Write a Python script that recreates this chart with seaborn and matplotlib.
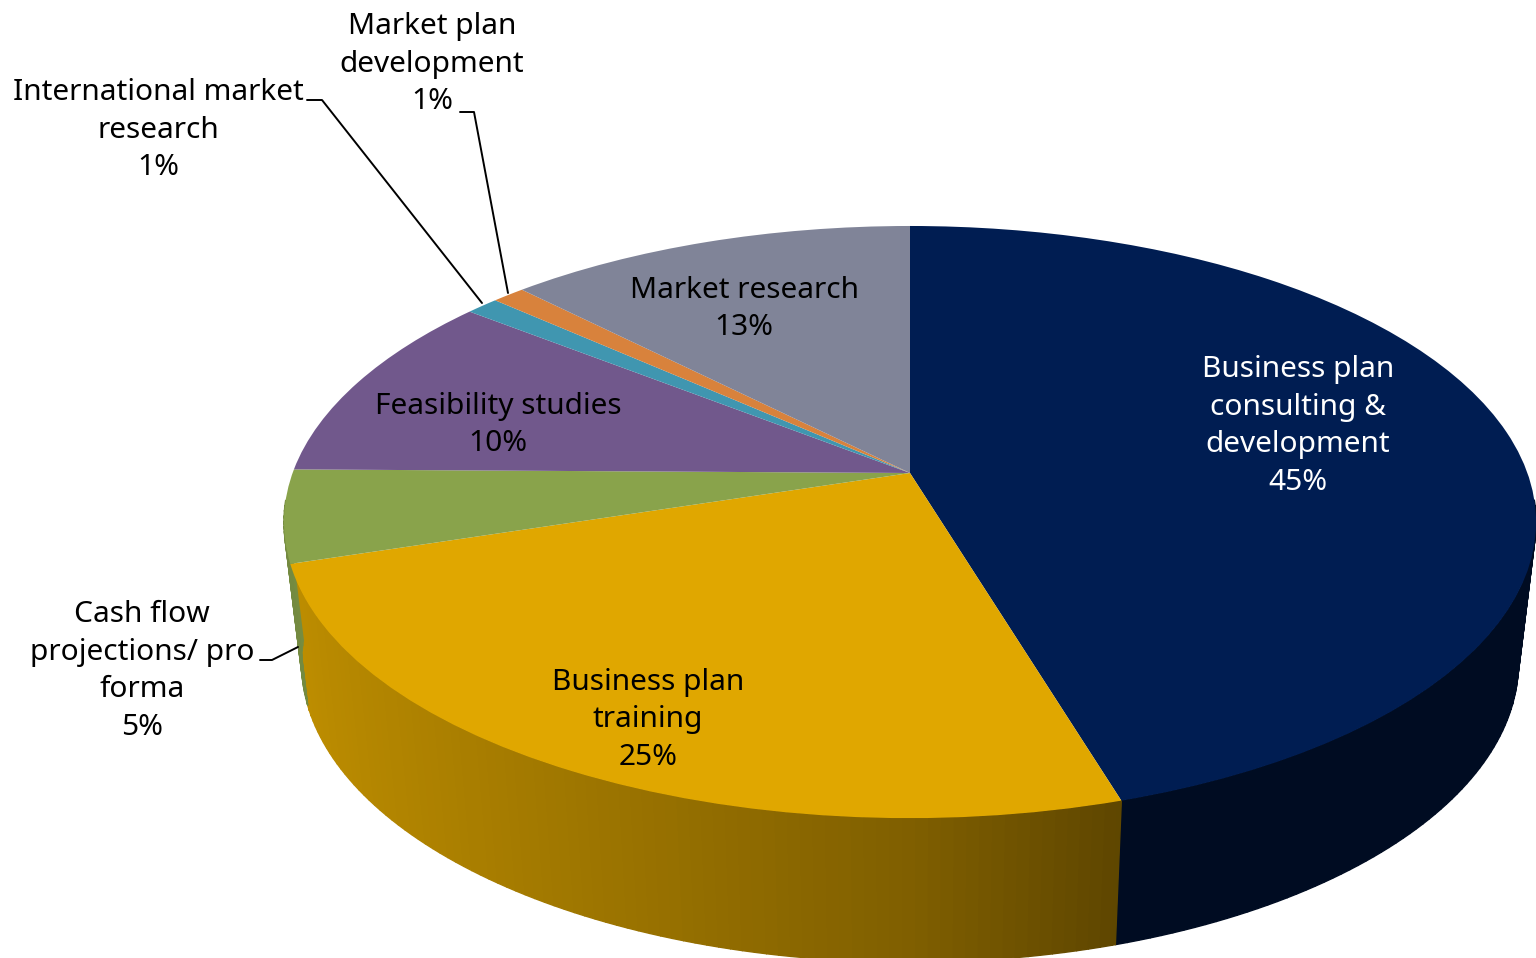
import numpy as np
import seaborn as sns
import matplotlib
matplotlib.use("Agg")
import matplotlib.pyplot as plt
import matplotlib.transforms as mtransforms

# slices, clockwise from 12 o'clock
categories = ["Business plan\nconsulting &\ndevelopment", "Business plan\ntraining",
              "Cash flow\nprojections/ pro\nforma", "Feasibility studies",
              "International market\nresearch", "Market plan\ndevelopment", "Market research"]
values = [45.35, 24.8, 5.05, 10.4, 1.0, 1.0, 12.4]
percents = [45, 25, 5, 10, 1, 1, 13]
colors = ["#001D52", "#E0A700", "#89A34B", "#71588C", "#4096B0", "#D8823C", "#808498"]
text_colors = ["white", "black", "black", "black", "black", "black", "black"]
label_x = [1298, 648, 142, 498, 158, 432, 744]
label_y = [426, 720, 671, 425, 130, 64, 309]


# tilted disc: unit circle of the pie -> picture pixels
class Disc(mtransforms.Transform):
    input_dims = 2
    output_dims = 2

    def __init__(self, a, b, y0, k=0.1655, x0=910):
        super().__init__()
        self.a, self.b, self.y0, self.k, self.x0 = a, b, y0, k, x0

    def transform_non_affine(self, xy):
        xy = np.asarray(xy, dtype=float)
        d = 1 + self.k * xy[:, 1]
        return np.column_stack([self.x0 + self.a * xy[:, 0] / d, self.y0 - self.b * xy[:, 1] / d])


top = Disc(617.4, 287.9, 473)
bottom = Disc(600, 291, 613.5)

sns.set_theme(style="white")
plt.rcParams["font.family"] = ["Noto Sans", "DejaVu Sans"]

fig = plt.figure(figsize=(15.36, 9.58), dpi=100)
ax = fig.add_axes([0, 0, 1, 1])
wedges, _ = ax.pie(values, colors=sns.color_palette(colors), startangle=90, counterclock=False,
                   wedgeprops={"linewidth": 0, "zorder": 3})
ax.set_aspect("auto")
ax.set_xlim(0, 1536)
ax.set_ylim(958, 0)
ax.axis("off")

# rim, darker to the right
for w, c in zip(wedges, colors):
    base = np.array(matplotlib.colors.to_rgb(c))
    ts = np.radians(np.arange(w.theta1, w.theta2 + 1, 1.0))
    ts[-1] = np.radians(w.theta2)
    for t1, t2 in zip(ts[:-1], ts[1:]):
        if np.sin((t1 + t2) / 2) > -0.1:
            continue
        pts = np.array([[np.cos(t1), np.sin(t1)], [np.cos(t2), np.sin(t2)]])
        shade = np.interp(pts[:, 0].mean(), [-1, -0.5, 0, 0.29], [0.86, 0.72, 0.57, 0.42])
        quad = np.vstack([top.transform(pts), bottom.transform(pts)[::-1]])
        ax.fill(quad[:, 0], quad[:, 1], color=base * shade, lw=1.0, zorder=2)

for w in wedges:
    w.set_transform(top + ax.transData)

for cat, pct, x, y, tc in zip(categories, percents, label_x, label_y, text_colors):
    ax.text(x, y, f"{cat}\n{pct}%", ha="center", va="center", color=tc, fontsize=21.5, linespacing=1.38, zorder=5)

# leader lines
ax.plot([307, 322, 482], [100, 100, 303], color="black", lw=1.4, zorder=4)
ax.plot([460, 474, 508], [112, 112, 293], color="black", lw=1.4, zorder=4)
ax.plot([260, 272, 298], [660, 660, 647], color="black", lw=1.4, zorder=4)

fig.savefig("out.png", dpi=100)
